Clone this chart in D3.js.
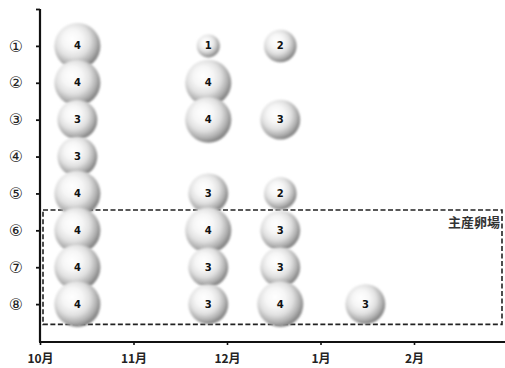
<!DOCTYPE html>
<html>
<head>
<meta charset="utf-8">
<script src="https://cdn.jsdelivr.net/npm/d3@7/dist/d3.min.js"></script>
<style>
  html, body { margin: 0; padding: 0; background: #fff; }
  svg { display: block; }
</style>
</head>
<body>
<div id="chart"></div>
<script>
// Sites (rows) and observation times (fractional months from 1 October)
const sites = ["①", "②", "③", "④", "⑤", "⑥", "⑦", "⑧"];
const monthLabels = ["10月", "11月", "12月", "1月", "2月"];
const surveyTimes = [0.4, 1.8, 2.57, 3.48];

// Abundance score per site at each survey time (null = no record)
const survey1 = [4, 4, 3, 3, 4, 4, 4, 4];
const survey2 = [1, 4, 4, null, 3, 4, 3, 3];
const survey3 = [2, null, 3, null, 2, 3, 3, 4];
const survey4 = [null, null, null, null, null, null, null, 3];

// Main spawning ground: sites ⑥–⑧
const spawningRows = [6, 8];
const spawningLabel = "主産卵場";

const width = 505, height = 368;
const svg = d3.select("#chart").append("svg")
  .attr("width", width).attr("height", height);

const x = d3.scaleLinear().domain([0, 5]).range([40, 507.5]);
const y = d3.scaleLinear().domain([0, 9]).range([9, 341]);
const r = d3.scaleSqrt().domain([0, 4]).range([0, 23]);

// Shaded sphere look for the bubbles
const defs = svg.append("defs");
const grad = defs.append("radialGradient")
  .attr("id", "ball").attr("cx", "42%").attr("cy", "40%").attr("r", "62%")
  .attr("fx", "38%").attr("fy", "34%");
[[0, "#ffffff"], [0.35, "#f6f6f6"], [0.6, "#e0e0e0"], [0.82, "#b0b0b0"], [1, "#7a7a7a"]]
  .forEach(([o, c]) => grad.append("stop").attr("offset", o).attr("stop-color", c));
defs.append("filter").attr("id", "soft")
  .attr("x", "-10%").attr("y", "-10%").attr("width", "120%").attr("height", "120%")
  .append("feGaussianBlur").attr("stdDeviation", 0.8);

// Spawning ground frame
svg.append("rect")
  .attr("x", 43)
  .attr("y", y(spawningRows[0] - 0.55))
  .attr("width", 502 - 43)
  .attr("height", y(spawningRows[1] + 0.55) - y(spawningRows[0] - 0.55))
  .attr("fill", "none")
  .attr("stroke", "#222")
  .attr("stroke-width", 1.6)
  .attr("stroke-dasharray", "5,2.5");

svg.append("text")
  .attr("x", 500).attr("y", y(spawningRows[0] - 0.55) + 17)
  .attr("text-anchor", "end")
  .attr("font-family", "'Noto Sans CJK JP', sans-serif")
  .attr("font-size", 13)
  .attr("font-weight", "bold")
  .attr("fill", "#333")
  .text(spawningLabel);

// Bubbles
const series = [survey1, survey2, survey3, survey4];
const points = [];
series.forEach((vals, si) => {
  vals.forEach((v, ri) => {
    if (v != null) points.push({ t: surveyTimes[si], row: ri + 1, v });
  });
});

const g = svg.append("g");
g.selectAll("circle").data(points).join("circle")
  .attr("cx", d => x(d.t))
  .attr("cy", d => y(d.row))
  .attr("r", d => r(d.v))
  .attr("fill", "url(#ball)")
  .attr("filter", "url(#soft)");

g.selectAll("text").data(points).join("text")
  .attr("x", d => x(d.t))
  .attr("y", d => y(d.row))
  .attr("dy", "0.36em")
  .attr("text-anchor", "middle")
  .attr("font-family", "'DejaVu Sans', sans-serif")
  .attr("font-size", 10)
  .attr("font-weight", "bold")
  .attr("fill", "#111")
  .text(d => d.v);

// Y axis
const yAxis = d3.axisLeft(y)
  .tickValues(d3.range(0, 9))
  .tickSize(4)
  .tickPadding(13)
  .tickFormat(i => i === 0 ? "" : sites[i - 1]);
const ya = svg.append("g").attr("transform", "translate(40,0)").call(yAxis);
ya.select(".domain").attr("stroke-width", 2.2).attr("stroke", "#111")
  .attr("d", `M0,${y(0)}V${y(9) + 1}`);
ya.selectAll(".tick line").attr("stroke-width", 1.8).attr("stroke", "#111");
ya.selectAll(".tick text")
  .attr("font-family", "'DejaVu Sans', sans-serif")
  .attr("font-size", 16)
  .attr("fill", "#222");

// X axis
const xAxis = d3.axisBottom(x)
  .tickValues(d3.range(0, 5))
  .tickSize(3)
  .tickPadding(9)
  .tickFormat(i => monthLabels[i]);
const xa = svg.append("g").attr("transform", `translate(0,${y(9) + 1})`).call(xAxis);
xa.select(".domain").attr("stroke-width", 2.2).attr("stroke", "#111")
  .attr("d", `M39,0H${width}`);
xa.selectAll(".tick line").attr("stroke-width", 1.6).attr("stroke", "#111");
xa.selectAll(".tick text")
  .attr("font-family", "'Noto Sans CJK JP', sans-serif")
  .attr("font-size", 12)
  .attr("font-weight", "bold")
  .attr("fill", "#222");
</script>
</body>
</html>
